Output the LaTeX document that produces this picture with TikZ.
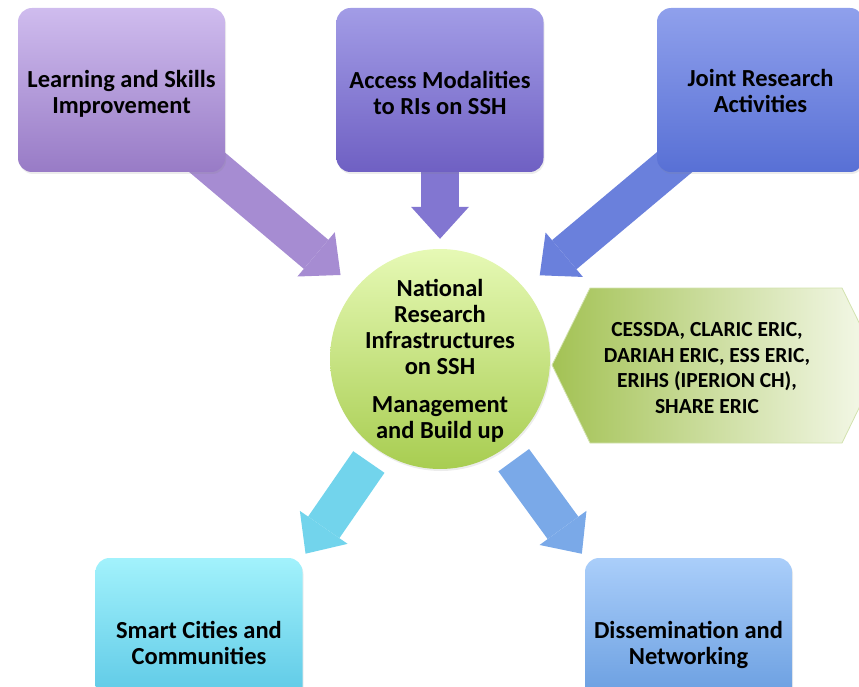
\documentclass[tikz,border=0pt]{standalone}
\usepackage{fontspec}
\newfontfamily\diagfont{Carlito}
\usetikzlibrary{arrows.meta,positioning,shadows,backgrounds}

\definecolor{learnTop}{HTML}{CFBCEE}
\definecolor{learnBot}{HTML}{987BC6}
\definecolor{accessTop}{HTML}{A29CE6}
\definecolor{accessBot}{HTML}{6F60C3}
\definecolor{jointTop}{HTML}{8FA0EC}
\definecolor{jointBot}{HTML}{5870D5}
\definecolor{smartTop}{HTML}{A2F2FC}
\definecolor{smartBot}{HTML}{52C2E2}
\definecolor{dissemTop}{HTML}{AACEFA}
\definecolor{dissemBot}{HTML}{5F96DC}
\definecolor{hubTop}{HTML}{E6F9B5}
\definecolor{hubBot}{HTML}{A8CD51}
\definecolor{memLeft}{HTML}{A3C254}
\definecolor{memRight}{HTML}{F7FAEE}
\definecolor{memLine}{HTML}{D2E2AE}
\definecolor{learnArrow}{HTML}{A68CD2}
\definecolor{accessArrow}{HTML}{8276D1}
\definecolor{jointArrow}{HTML}{6A80DC}
\definecolor{smartArrow}{HTML}{72D4EC}
\definecolor{dissemArrow}{HTML}{7AA9E8}

\begin{document}
\begin{tikzpicture}
  [
    x=1pt, y=-1pt,
    Box/.style={rectangle, rounded corners=14pt, minimum width=207pt, minimum height=164pt, inner sep=0pt,
      drop shadow={opacity=0.15, shadow xshift=1pt, shadow yshift=-2pt}},
    Hub/.style={circle, minimum size=220pt, inner sep=0pt, top color=hubTop, bottom color=hubBot,
      drop shadow={opacity=0.15, shadow xshift=1pt, shadow yshift=-2pt}},
    Caption/.style={font=\diagfont\bfseries\fontsize{24.5}{26}\selectfont, align=center, inner sep=0pt},
    Flow/.style={line width=38pt, -{Triangle[length=32pt 0 0, width=58pt 0 0, line width=0pt 0 0]}}
  ]
  \useasboundingbox (0,0) rectangle (859,687);
  \clip (0,0) rectangle (859,687);
  % Boxes
  \node[Box, top color=learnTop, bottom color=learnBot] (learn) at (121.5,90) {};
  \node[Box, top color=accessTop, bottom color=accessBot] (access) at (440,90) {};
  \node[Box, top color=jointTop, bottom color=jointBot] (joint) at (760.5,90) {};
  \node[Box, top color=smartTop, bottom color=smartBot] (smart) at (199,640) {};
  \node[Box, top color=dissemTop, bottom color=dissemBot] (dissem) at (688.5,640) {};
  % Hub and members
  \node[Hub] (hub) at (440,359) {};
  \shade[left color=memLeft, right color=memRight, draw=memLine, line width=0.8pt]
    (552,365) -- (590,288) -- (842,288) -- (880,365) -- (842,443) -- (590,443) -- cycle;
  % Texts
  \node[Caption] (learn-txt) at ([yshift=-3.5pt]learn.center) {Learning and Skills\\Improvement};
  \node[Caption] (access-txt) at ([yshift=-3pt]access.center) {Access Modalities\\to RIs on SSH};
  \node[Caption] (joint-txt) at ([yshift=-1pt]joint.center) {Joint Research\\Activities};
  \node[Caption] (smart-txt) at ([yshift=-3pt]smart.center) {Smart Cities and\\Communities};
  \node[Caption] (dissem-txt) at ([yshift=-4.75pt]dissem.center) {Dissemination and\\Networking};
  \node[Caption] (hub-txt) at ([yshift=-1.75pt]hub.center) {National\\Research\\Infrastructures\\on SSH\\[12pt]Management\\and Build up};
  \node[Caption, font=\diagfont\bfseries\fontsize{21.5}{25.5}\selectfont] (members-txt) at (707,368)
    {CESSDA, CLARIC ERIC,\\DARIAH ERIC, ESS ERIC,\\ERIHS (IPERION CH),\\SHARE ERIC};
  % Arrows
  \begin{scope}[on background layer]
    \draw[Flow, learnArrow, shorten >=20pt] (learn.center) -- (hub);
    \draw[Flow, accessArrow, shorten >=10pt] (access.center) -- (hub);
    \draw[Flow, jointArrow, shorten >=20pt] (joint.center) -- (hub);
    \draw[Flow, smartArrow, shorten <=15pt, shorten >=5pt] (hub) -- (smart.north east);
    \draw[Flow, dissemArrow, shorten <=15pt, shorten >=5pt] (hub) -- (dissem.north west);
  \end{scope}
\end{tikzpicture}
\end{document}
